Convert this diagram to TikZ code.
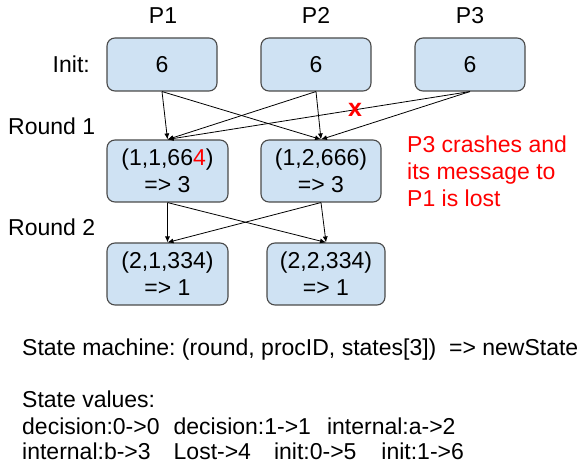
\documentclass[tikz,border=0pt]{standalone}
\usepackage{fontspec}
\setmainfont{Liberation Sans}
\usetikzlibrary{arrows.meta}
\definecolor{boxfill}{HTML}{CFE2F3}
\definecolor{boxline}{HTML}{4A4A4A}
\definecolor{alert}{HTML}{FF0000}
\begin{document}
\frenchspacing
\begin{tikzpicture}[x=1pt,y=-1pt,
  every node/.style={font=\fontsize{23}{27}\selectfont, inner sep=0pt},
  pbox/.style={draw=boxline, fill=boxfill, rounded corners=8pt, line width=1.1pt, align=center},
  msg/.style={-{Latex[length=6pt,width=5pt]}, line width=0.8pt, black}]
\useasboundingbox (0,0) rectangle (579,470);
% process labels
\node[anchor=base] (p1) at (163,24) {P1};
\node[anchor=base] (p2) at (316,24) {P2};
\node[anchor=base] (p3) at (470,24) {P3};
% row labels
\node[anchor=base east] (init) at (90,73) {Init:};
\node[anchor=base west] (round1) at (8,135) {Round 1};
\node[anchor=base west] (round2) at (8,236) {Round 2};
% init boxes
\node[pbox, minimum width=110pt, minimum height=53pt] (i1) at (162,64.5) {6};
\node[pbox, minimum width=110pt, minimum height=53pt] (i2) at (316,64.5) {6};
\node[pbox, minimum width=110pt, minimum height=53pt] (i3) at (470,64.5) {6};
% round 1 boxes
\node[pbox, minimum width=121pt, minimum height=62pt] (ra) at (167.5,171) {(1,1,66{\color{alert}4})\\=> 3};
\node[pbox, minimum width=120pt, minimum height=62pt] (rb) at (321,171) {(1,2,666)\\=> 3};
% round 2 boxes
\node[pbox, minimum width=121pt, minimum height=62pt] (rc) at (167.5,274) {(2,1,334)\\=> 1};
\node[pbox, minimum width=118pt, minimum height=62pt] (rd) at (326,274) {(2,2,334)\\=> 1};
% messages round 1
\draw[msg] (i1.south) -- (ra.north);
\draw[msg] (i1.south) -- (rb.north);
\draw[msg] (i2.south) -- (ra.north);
\draw[msg] (i2.south) -- (rb.north);
\draw[msg] (i3.south) -- (ra.north);
\draw[msg] (i3.south) -- (rb.north);
% messages round 2
\draw[msg] (ra.south) -- (rc.north);
\draw[msg] (ra.south) -- (rd.north);
\draw[msg] (rb.south) -- (rc.north);
\draw[msg] (rb.south) -- (rd.north);
% lost message mark
\node[text=alert, font=\bfseries\fontsize{25}{25}\selectfont] (lost) at (355,110) {x};
\node[anchor=north west, align=left, text=alert] (note) at (407,135.5) {P3 crashes and\\its message to\\P1 is lost};
% state machine text
\node[anchor=base west] (sm) at (22,356) {State machine: (round, procID, states[3])\ \ => newState};
\node[anchor=base west] (sv) at (22,408) {State values:};
\node[anchor=base west] (sv1) at (22,435) {decision:0->0\hspace{14pt}decision:1->1\hspace{16pt}internal:a->2};
\node[anchor=base west] (sv2) at (22,460) {internal:b->3\hspace{23pt}Lost->4\hspace{23pt}init:0->5\hspace{25pt}init:1->6};
\end{tikzpicture}
\end{document}
